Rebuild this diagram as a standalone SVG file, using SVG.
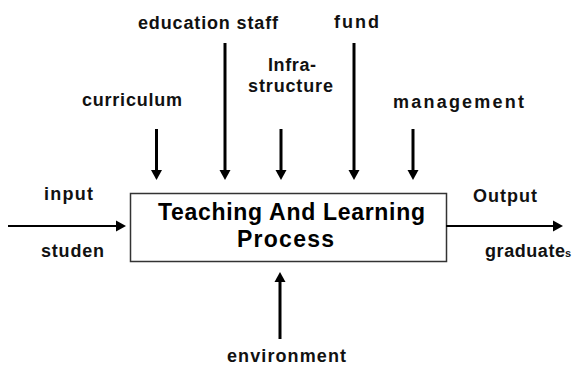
<svg xmlns="http://www.w3.org/2000/svg" width="572" height="365" viewBox="0 0 572 365">
  <style>
    .lbl { font-family: "Liberation Sans", Arial, sans-serif; font-size: 18px; font-weight: bold; fill: #111; }
    .title { font-family: "Liberation Sans", Arial, sans-serif; font-size: 23px; font-weight: bold; fill: #000; text-anchor: middle; }
    .wire { stroke: #000; fill: none; }
    .v { stroke-width: 3; }
    .h { stroke-width: 2; }
  </style>
  <defs>
    <marker id="head" markerUnits="userSpaceOnUse" markerWidth="11" markerHeight="12" refX="0" refY="5.5" orient="auto" viewBox="0 0 11 11">
      <path d="M0,0 L10,5.5 L0,11 Z" fill="#000"/>
    </marker>
  </defs>

  <!-- central process box -->
  <g id="process">
    <rect x="130.5" y="193.5" width="316" height="68" fill="#fff" stroke="#333" stroke-width="1.5"/>
    <text class="title" x="291.5" y="220" textLength="267" lengthAdjust="spacing">Teaching And Learning</text>
    <text class="title" x="285.5" y="247" textLength="97" lengthAdjust="spacing">Process</text>
  </g>

  <!-- inputs, resources and outputs -->
  <g id="education-staff"><text class="lbl" x="138" y="29" textLength="140" lengthAdjust="spacing">education staff</text></g>
  <g id="fund"><text class="lbl" x="334" y="28" textLength="45" lengthAdjust="spacing">fund</text></g>
  <g id="curriculum"><text class="lbl" x="82" y="106" textLength="100" lengthAdjust="spacing">curriculum</text></g>
  <g id="infrastructure">
    <text class="lbl" x="268" y="71" textLength="48" lengthAdjust="spacing">Infra-</text>
    <text class="lbl" x="248" y="92" textLength="85" lengthAdjust="spacing">structure</text>
  </g>
  <g id="management"><text class="lbl" x="393" y="108" textLength="131" lengthAdjust="spacing">management</text></g>
  <g id="input">
    <text class="lbl" x="44" y="200" textLength="49" lengthAdjust="spacing">input</text>
    <text class="lbl" x="41" y="257" textLength="63" lengthAdjust="spacing">studen</text>
  </g>
  <g id="output">
    <text class="lbl" x="473" y="202" textLength="64" lengthAdjust="spacing">Output</text>
    <text class="lbl" x="485" y="257" textLength="80" lengthAdjust="spacing">graduate</text>
    <text class="lbl" x="565" y="257" style="font-size:11px">s</text>
  </g>
  <g id="environment"><text class="lbl" x="227" y="362" textLength="119" lengthAdjust="spacing">environment</text></g>

  <!-- connectors -->
  <g id="connectors">
    <line class="wire v" x1="156.5" y1="129" x2="156.5" y2="170" marker-end="url(#head)"/>
    <line class="wire v" x1="225" y1="43" x2="225" y2="170" marker-end="url(#head)"/>
    <line class="wire v" x1="281" y1="129" x2="281" y2="170" marker-end="url(#head)"/>
    <line class="wire v" x1="354" y1="43" x2="354" y2="170" marker-end="url(#head)"/>
    <line class="wire v" x1="413" y1="129" x2="413" y2="170" marker-end="url(#head)"/>
    <line class="wire v" x1="280" y1="339" x2="280" y2="282" marker-end="url(#head)"/>
    <line class="wire h" x1="8" y1="226" x2="116" y2="226" marker-end="url(#head)"/>
    <line class="wire h" x1="446" y1="226" x2="553" y2="226" marker-end="url(#head)"/>
  </g>
</svg>
